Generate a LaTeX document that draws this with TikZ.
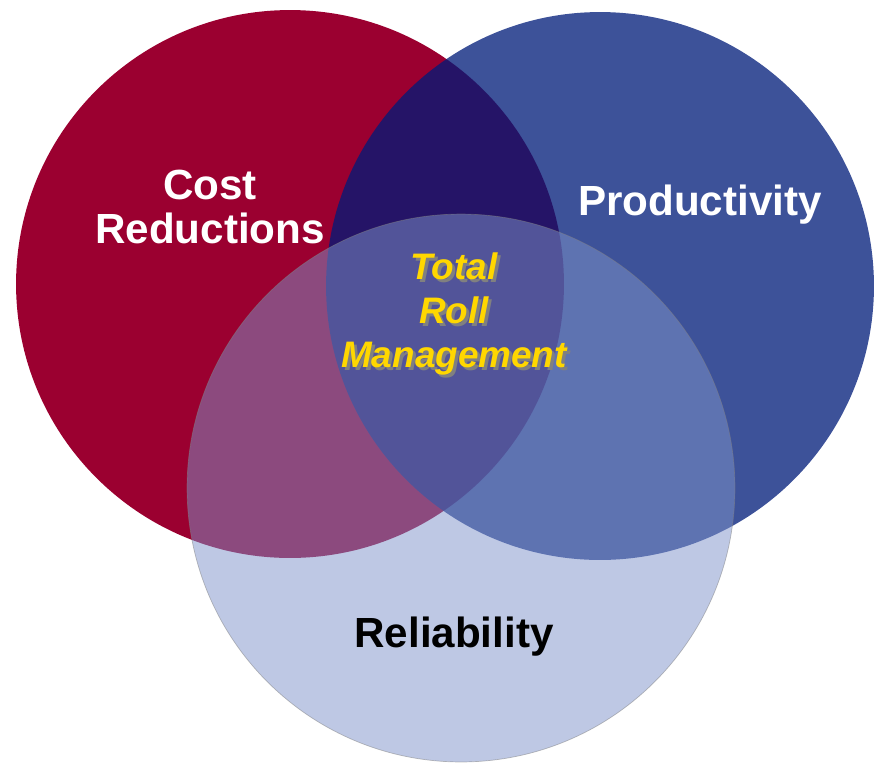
\documentclass[tikz,border=0pt]{standalone}
\usepackage{fontspec}
\setmainfont{Liberation Sans}
\usepackage{tikz}
\usetikzlibrary{positioning}

\definecolor{costred}{RGB}{155,0,48}
\definecolor{prodblue}{RGB}{0,27,121}
\definecolor{relblue}{RGB}{127,147,202}
\definecolor{rollgold}{RGB}{255,215,0}

\begin{document}
\begin{tikzpicture}[
        x=0.02cm, y=-0.02cm,
        every node/.style={inner sep=0pt, outer sep=0pt},
        ring/.style={circle, minimum size=10.96cm},
        biglabel/.style={font=\fontsize{24}{25}\selectfont\bfseries, align=center},
        midlabel/.style={font=\fontsize{21}{25}\selectfont\bfseries\itshape, align=center},
    ]
        \useasboundingbox (0,0) rectangle (874,765);

        % Circles
        \node[ring, fill=costred] (cost) at (290,284) {};
        \node[ring, fill=prodblue, fill opacity=0.76] (prod) at (600,286) {};
        \node[ring, fill=relblue, fill opacity=0.51,
            draw=gray, draw opacity=0.5, line width=0.4pt] (rel) at (461,488) {};

        % Labels
        \node[biglabel, text=white] (costlbl) at (210,207) {Cost\\Reductions};
        \node[biglabel, text=white] (prodlbl) at (700,205) {Productivity};
        \node[biglabel, text=black] (rellbl) at (454,637) {Reliability};

        % Centre label with shadow
        \node[midlabel, text=gray] (trmshadow) at (457,317) {Total\\Roll\\Management};
        \node[midlabel, text=rollgold] (trm) at (454,314) {Total\\Roll\\Management};
    \end{tikzpicture}
\end{document}
